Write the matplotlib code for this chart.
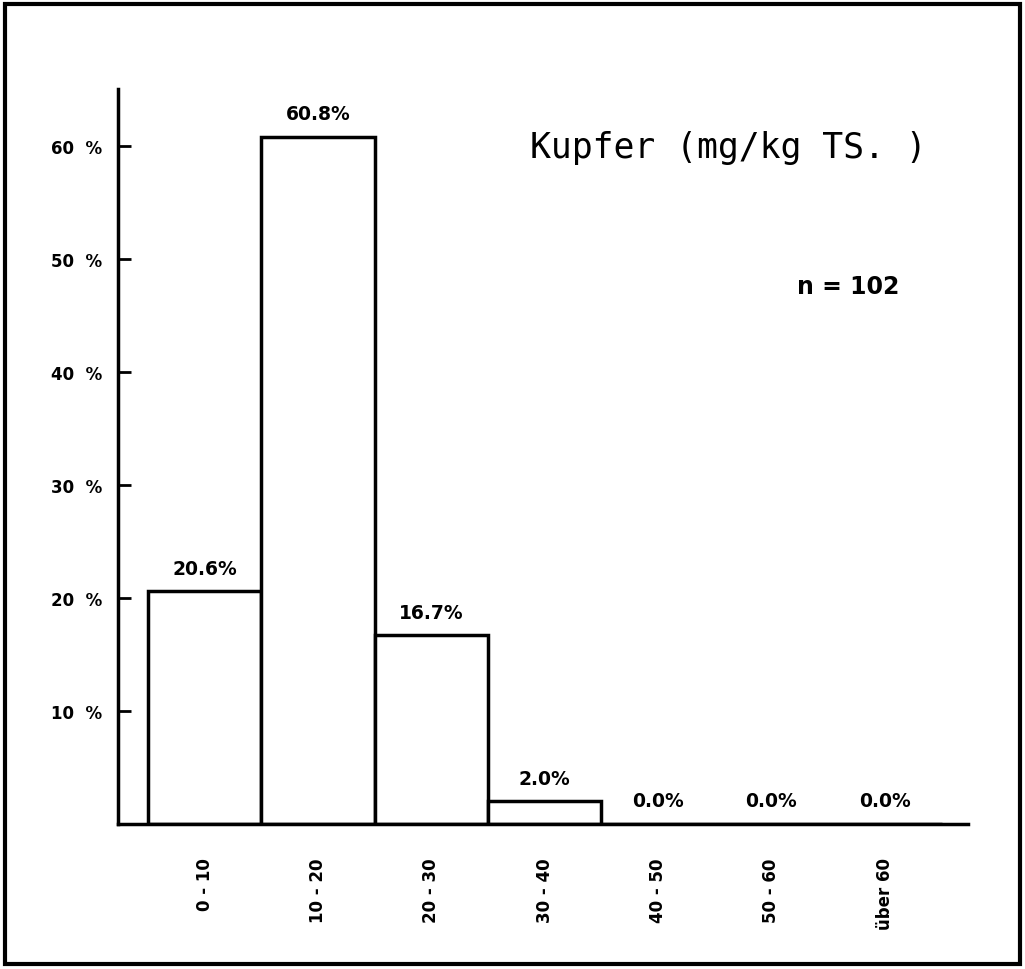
import matplotlib.pyplot as plt
from matplotlib.patches import Rectangle

klassen = ["0 - 10", "10 - 20", "20 - 30", "30 - 40", "40 - 50", "50 - 60", "über 60"]
anteil = [20.6, 60.8, 16.7, 2.0, 0.0, 0.0, 0.0]
y_ticks = [10, 20, 30, 40, 50, 60]
y_labels = ["10  %", "20  %", "30  %", "40  %", "50  %", "60  %"]

fig = plt.figure(figsize=(10.25, 9.7), dpi=100)
ax = fig.add_axes([0.115, 0.1495, 0.829, 0.7575])

x = list(range(len(klassen)))
ax.bar(x, anteil, width=1.0, facecolor="white", edgecolor="black", linewidth=2.5)

for xi, v in zip(x, anteil):
    ax.text(xi, v + 1.2, f"{v:.1f}%", ha="center", va="bottom",
            fontsize=13.5, fontweight="bold")

ax.set_xlim(-0.765, 6.73)
ax.set_ylim(0, 65)
ax.set_yticks(y_ticks)
ax.set_yticklabels(y_labels, fontsize=12, fontweight="bold")
ax.yaxis.set_tick_params(direction="in", length=9, width=2, pad=11)
ax.set_xticks(x)
ax.set_xticklabels(klassen, rotation=90, fontsize=12, fontweight="bold")
ax.tick_params(axis="x", length=0, pad=24)

for s in ["top", "right"]:
    ax.spines[s].set_visible(False)
for s in ["left", "bottom"]:
    ax.spines[s].set_linewidth(2.5)

ax.text(0.952, 0.922, "Kupfer (mg/kg TS. )", transform=ax.transAxes,
        ha="right", va="center", fontsize=25, family="DejaVu Sans Mono")
ax.text(0.859, 0.732, "n = 102", transform=ax.transAxes,
        ha="center", va="center", fontsize=17, fontweight="bold")

# Rahmen um das ganze Bild
fig.patches.append(Rectangle((0.005, 0.005), 0.99, 0.99, transform=fig.transFigure,
                             fill=False, edgecolor="black", linewidth=3))

fig.savefig("out.png", dpi=100)
